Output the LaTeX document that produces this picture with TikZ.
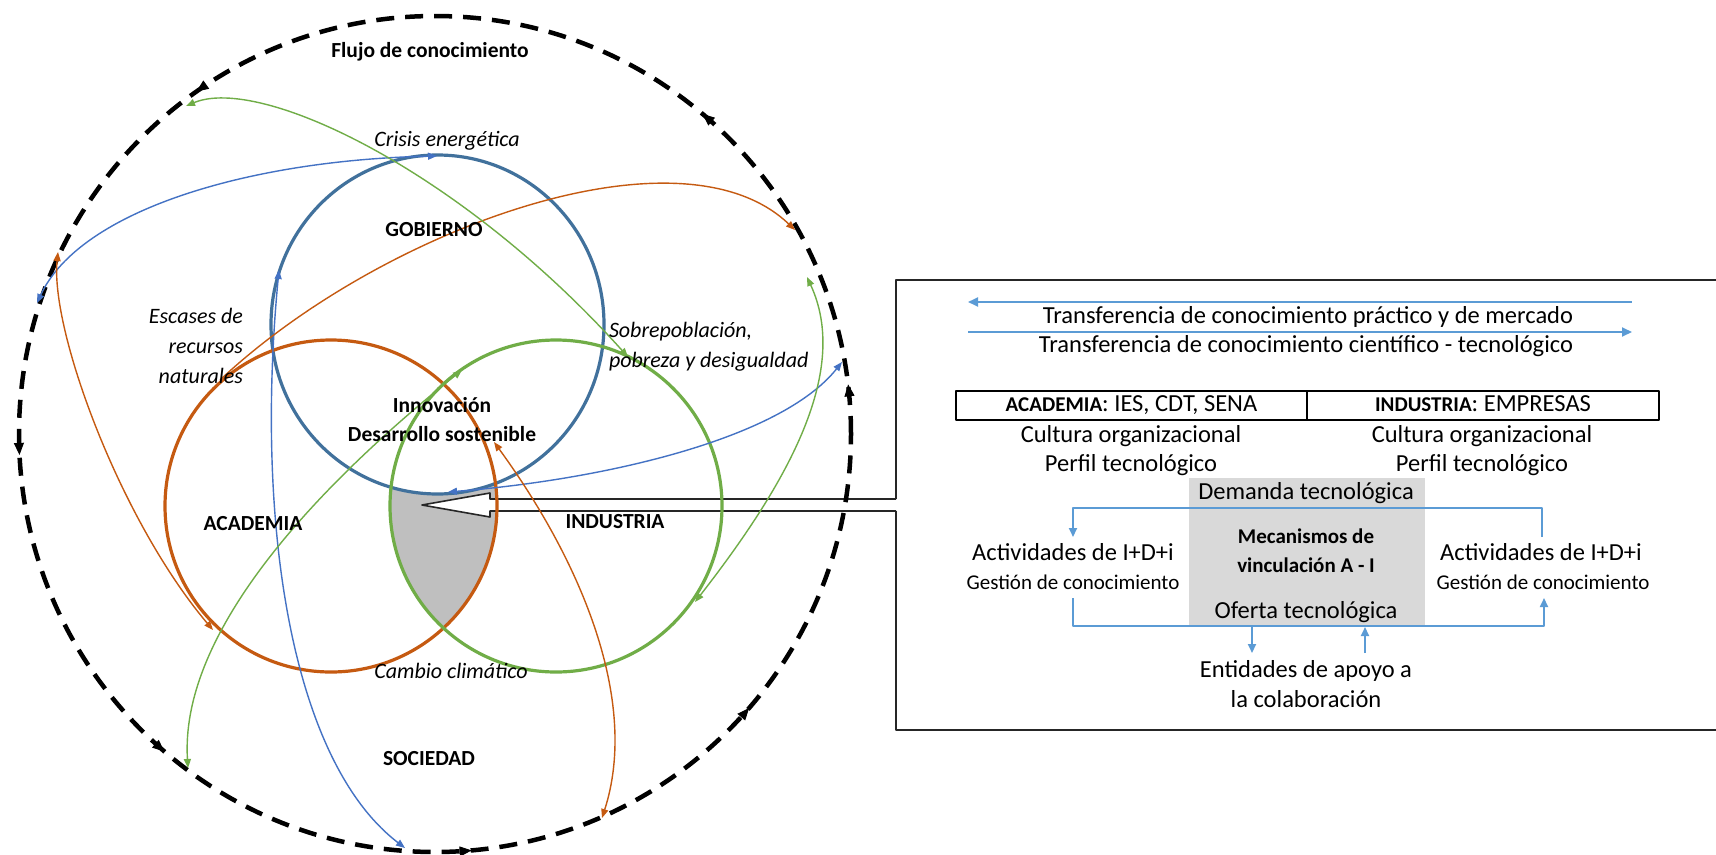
\documentclass[tikz,border=0pt]{standalone}
\usepackage{fontspec}
\setmainfont{Carlito}
\usetikzlibrary{arrows.meta,decorations.markings}

\definecolor{govblue}{HTML}{41719C}
\definecolor{linkblue}{HTML}{4472C4}
\definecolor{acaorange}{HTML}{C55A11}
\definecolor{indgreen}{HTML}{70AD47}
\definecolor{panelblue}{HTML}{5B9BD5}
\definecolor{sharedgray}{HTML}{BFBFBF}
\definecolor{panelgray}{HTML}{D9D9D9}

\tikzset{
  every node/.style={inner sep=0pt, outer sep=0pt},
  lbl/.style={font=\fontsize{21.5}{25}\selectfont\bfseries, text height=14pt, text depth=4pt},
  ital/.style={font=\fontsize{22}{26}\selectfont\itshape, text height=14pt, text depth=4pt},
  ptxt/.style={font=\fontsize{24.5}{29}\selectfont, text height=16pt, text depth=5pt},
  pbold/.style={font=\fontsize{21}{25}\selectfont\bfseries, text height=14pt, text depth=4pt},
  psmall/.style={font=\fontsize{21}{25}\selectfont, text height=14pt, text depth=4pt},
  flowring/.style={line width=4.5pt, dash pattern=on 18pt off 11pt,
    postaction={decorate, solid},
    decoration={markings,
      mark=at position 0.019 with {\arrow[line width=1pt]{Triangle[length=12pt,width=10pt]}},
      mark=at position 0.139 with {\arrow[line width=1pt]{Triangle[length=12pt,width=10pt]}},
      mark=at position 0.347 with {\arrow[line width=1pt]{Triangle[length=12pt,width=10pt]}},
      mark=at position 0.508 with {\arrow[line width=1pt]{Triangle[length=12pt,width=10pt]}},
      mark=at position 0.6375 with {\arrow[line width=1pt]{Triangle[length=12pt,width=10pt]}},
      mark=at position 0.764 with {\arrow[line width=1pt]{Triangle[length=12pt,width=10pt]}},
      mark=at position 0.886 with {\arrow[line width=1pt]{Triangle[length=12pt,width=10pt]}}}},
  ring/.style={line width=3.2pt},
  twoway/.style={line width=1.4pt, {Triangle[length=9pt,width=7pt]}-{Triangle[length=9pt,width=7pt]}},
  oneway/.style={line width=1.4pt, -{Triangle[length=9pt,width=7pt]}},
  pline/.style={draw=panelblue, line width=1.8pt},
  ptip/.style={-{Triangle[length=9pt,width=8pt]}},
  boxline/.style={draw=black!85, line width=1.6pt},
  cell/.style={draw=black, line width=2pt, minimum height=29pt, text height=16pt, text depth=5pt,
    font=\fontsize{24.5}{29}\selectfont},
}

\begin{document}
\begin{tikzpicture}[x={(1pt,0pt)}, y={(0pt,-1pt)}, line join=round]
\useasboundingbox (0,0) rectangle (1716,854);
\fill[white] (0,0) rectangle (1716,854);

% ---------- key points ----------
\coordinate (govC) at (437.5,324.5);
\coordinate (acaC) at (331,506);
\coordinate (indC) at (556,506);
\coordinate (socC) at (435,434);

% shared region of academia and industry, outside government
\begin{scope}
  \clip (acaC) circle[radius=166];
  \clip (indC) circle[radius=166];
  \fill[sharedgray, even odd rule] (250,300) rectangle (650,700)
     (govC) ellipse[x radius=166.5, y radius=169.5];
\end{scope}

% ---------- block arrow from the panel ----------
\draw[boxline, fill=white] (896,499) -- (490,499) -- (490,493) -- (422,505)
   -- (490,517) -- (490,511) -- (896,511);
\draw[boxline] (896,499) -- (896,280) -- (1722,280);
\draw[boxline] (1722,730) -- (896,730) -- (896,511);

% ---------- knowledge flow ring ----------
\draw[flowring] (851,434) arc[start angle=360, end angle=0, x radius=416, y radius=418];

% ---------- actor rings ----------
\draw[ring, govblue] (govC) ellipse[x radius=166.5, y radius=169.5];
\draw[ring, acaorange] (acaC) circle[radius=166];
\draw[ring, indgreen] (indC) circle[radius=166];

% ---------- interaction links ----------
\coordinate (a1) at (437,156);   \coordinate (a2) at (37,303);
\coordinate (b1) at (842,362);   \coordinate (b2) at (448,492);
\coordinate (c1) at (279,270);   \coordinate (c2) at (405,848);
\coordinate (d1) at (58,252);    \coordinate (d2) at (213,630);
\coordinate (e1) at (220,380);   \coordinate (e2) at (795,230);
\coordinate (f1) at (494,442);   \coordinate (f2) at (602,818);
\coordinate (g1) at (462,370);   \coordinate (g2) at (188,768);
\coordinate (h1) at (807,277);   \coordinate (h2) at (695,602);
\coordinate (i1) at (186,106);   \coordinate (i2) at (628,357);

\draw[twoway, linkblue] (a1) .. controls (250,160) and (80,210) .. (a2);
\draw[twoway, linkblue] (b1) .. controls (780,440) and (600,480) .. (b2);
\draw[twoway, linkblue] (c1) .. controls (255,520) and (290,760) .. (c2);
\draw[twoway, acaorange] (d1) .. controls (50,330) and (120,520) .. (d2);
\draw[oneway, acaorange] (e1) .. controls (380,230) and (680,120) .. (e2);
\draw[twoway, acaorange] (f1) .. controls (580,560) and (640,700) .. (f2);
\draw[twoway, indgreen] (g1) .. controls (300,500) and (180,640) .. (g2);
\draw[twoway, indgreen] (h1) .. controls (850,370) and (790,480) .. (h2);
\draw[twoway, indgreen] (i1) .. controls (260,75) and (460,170) .. (i2);

% ---------- labels ----------
\node[lbl] (flujo) at (430,52) {Flujo de conocimiento};
\node[ital] (crisis) at (447,141) {Crisis energética};
\node[lbl] (gob) at (434,231) {GOBIERNO};
\node[ital, anchor=east] (esc1) at (243,318) {Escases de};
\node[ital, anchor=east] (esc2) at (243,348) {recursos};
\node[ital, anchor=east] (esc3) at (243,378) {naturales};
\node[ital, anchor=west] (sob1) at (609,332) {Sobrepoblación,};
\node[ital, anchor=west] (sob2) at (609,362) {pobreza y desigualdad};
\node[lbl] (inn1) at (442,407) {Innovación};
\node[lbl] (inn2) at (442,436) {Desarrollo sostenible};
\node[lbl] (aca) at (253,525) {ACADEMIA};
\node[lbl] (ind) at (615,523) {INDUSTRIA};
\node[ital] (clima) at (451,673) {Cambio climático};
\node[lbl] (soc) at (429,760) {SOCIEDAD};

% ---------- linkage panel ----------
\node[ptxt] (tr1) at (1308,318) {Transferencia de conocimiento práctico y de mercado};
\node[ptxt] (tr2) at (1306,347) {Transferencia de conocimiento científico - tecnológico};
\draw[pline, {Triangle[length=10pt,width=9pt]}-] (968,302) -- (1632,302);
\draw[pline, -{Triangle[length=10pt,width=9pt]}] (968,332) -- (1632,332);

\node[cell, minimum width=351pt] (tabA) at (1131.5,405.5)
  {\fontsize{21}{25}\selectfont\bfseries ACADEMIA\fontsize{24.5}{29}\selectfont\mdseries: IES, CDT, SENA};
\node[cell, minimum width=352pt] (tabI) at (1483,405.5)
  {\fontsize{21}{25}\selectfont\bfseries INDUSTRIA\fontsize{24.5}{29}\selectfont\mdseries: EMPRESAS};

\node[ptxt] (cultA) at (1131,437) {Cultura organizacional};
\node[ptxt] (cultI) at (1482,437) {Cultura organizacional};
\node[ptxt] (perfA) at (1131,466) {Perfil tecnológico};
\node[ptxt] (perfI) at (1482,466) {Perfil tecnológico};

\node[fill=panelgray, minimum width=236pt, minimum height=147pt] (mech) at (1307,551.5) {};
\node[ptxt] (dem) at (1306,494) {Demanda tecnológica};
\node[pbold] (mec1) at (1306,538) {Mecanismos de};
\node[pbold] (mec2) at (1306,567) {vinculación A - I};
\node[ptxt] (ofe) at (1306,613) {Oferta tecnológica};

\node[ptxt] (actA) at (1073,555) {Actividades de I+D+i};
\node[ptxt] (actI) at (1541,555) {Actividades de I+D+i};
\node[psmall] (gesA) at (1073,584) {Gestión de conocimiento};
\node[psmall] (gesI) at (1543,584) {Gestión de conocimiento};

\node[ptxt] (ent1) at (1306,672) {Entidades de apoyo a};
\node[ptxt] (ent2) at (1306,702) {la colaboración};

\coordinate (dR) at (1542,537);  \coordinate (dL) at (1073,537);
\coordinate (oL) at (1073,598);  \coordinate (oR) at (1544,598);
\draw[pline, ptip] (dR) -- (1542,508) -- (1073,508) -- (dL);
\draw[pline, ptip] (oL) -- (1073,626) -- (1544,626) -- (oR);
\draw[pline, ptip] (1252,626) -- (1252,653);
\draw[pline, ptip] (1365,653) -- (1365,627);

\end{tikzpicture}
\end{document}
